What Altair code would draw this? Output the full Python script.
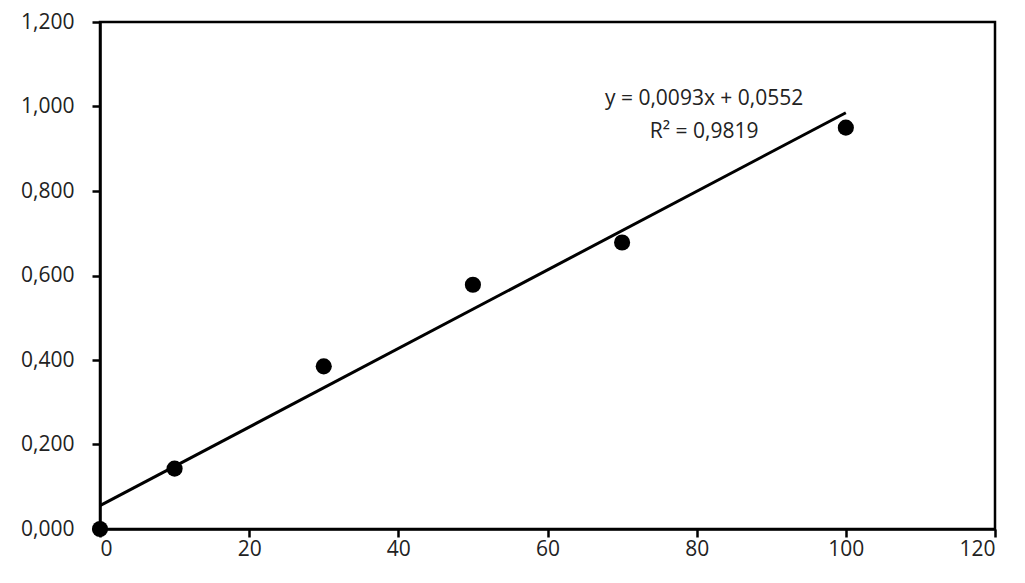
import altair as alt
import pandas as pd

conc = [0, 10, 30, 50, 70, 100]
absorb = [0.000, 0.143, 0.385, 0.578, 0.678, 0.950]
trend_x = [0, 100]
trend_y = [0.0552, 0.9852]
eq_lines = ["y = 0,0093x + 0,0552", "R² = 0,9819"]
eq_x = [81.0, 81.0]
eq_y = [1.017, 0.94]

pts = pd.DataFrame({"x": conc, "y": absorb})
tr = pd.DataFrame({"x": trend_x, "y": trend_y})
eq = pd.DataFrame({"x": eq_x, "y": eq_y, "t": eq_lines})

FONT = "Open Sans"
xs = alt.Scale(domain=[0, 120], nice=False, zero=False)
ys = alt.Scale(domain=[0, 1.2], nice=False, zero=False)

xaxis = alt.Axis(values=[0, 20, 40, 60, 80, 100, 120], grid=False, domainColor="black",
                 domainWidth=2.5, tickColor="black", tickWidth=2.5, tickSize=8,
                 labelFont=FONT, labelFontSize=21, labelColor="#222", labelPadding=1, title=None)
yaxis = alt.Axis(values=[0, 0.2, 0.4, 0.6, 0.8, 1.0, 1.2], grid=False, domainColor="black",
                 domainWidth=2.5, tickColor="black", tickWidth=2.5, tickSize=8,
                 labelFont=FONT, labelFontSize=21, labelColor="#222", labelPadding=18,
                 labelExpr="replace(format(datum.value, '.3f'), '.', ',')", title=None)

points = alt.Chart(pts).mark_circle(size=260, color="black", opacity=1).encode(
    x=alt.X("x:Q", scale=xs, axis=xaxis),
    y=alt.Y("y:Q", scale=ys, axis=yaxis),
)
line = alt.Chart(tr).mark_line(color="black", strokeWidth=3).encode(
    x=alt.X("x:Q", scale=xs), y=alt.Y("y:Q", scale=ys)
)
text = alt.Chart(eq).mark_text(font=FONT, fontSize=21, color="#222", align="center").encode(
    x=alt.X("x:Q", scale=xs), y=alt.Y("y:Q", scale=ys), text="t:N"
)

chart = alt.layer(line, points, text).properties(
    width=895, height=507,
    autosize=alt.AutoSizeParams(type="none"),
    padding={"left": 92, "top": 14, "right": 20, "bottom": 40},
).configure(background="white").configure_view(stroke="black", strokeWidth=2.5)

chart.save("out.html", embed_options={"renderer": "svg", "actions": False})
